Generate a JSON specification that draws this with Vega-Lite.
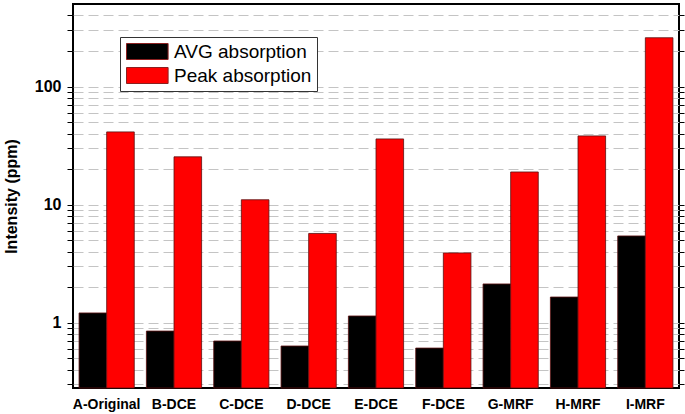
{
  "$schema": "https://vega.github.io/schema/vega-lite/v6.json",
  "width": 606,
  "height": 384,
  "autosize": "none",
  "padding": {"left": 73, "top": 4, "right": 6, "bottom": 26},
  "background": "white",
  "config": {
    "view": {"stroke": "black", "strokeWidth": 2},
    "font": "Liberation Sans"
  },
  "data": {
    "values": [
      {"sample": "A-Original", "series": "AVG absorption", "value": 1.21},
      {"sample": "A-Original", "series": "Peak absorption", "value": 41.3},
      {"sample": "B-DCE", "series": "AVG absorption", "value": 0.85},
      {"sample": "B-DCE", "series": "Peak absorption", "value": 25.4},
      {"sample": "C-DCE", "series": "AVG absorption", "value": 0.70},
      {"sample": "C-DCE", "series": "Peak absorption", "value": 11.0},
      {"sample": "D-DCE", "series": "AVG absorption", "value": 0.635},
      {"sample": "D-DCE", "series": "Peak absorption", "value": 5.7},
      {"sample": "E-DCE", "series": "AVG absorption", "value": 1.14},
      {"sample": "E-DCE", "series": "Peak absorption", "value": 36},
      {"sample": "F-DCE", "series": "AVG absorption", "value": 0.61},
      {"sample": "F-DCE", "series": "Peak absorption", "value": 3.9},
      {"sample": "G-MRF", "series": "AVG absorption", "value": 2.13},
      {"sample": "G-MRF", "series": "Peak absorption", "value": 18.9},
      {"sample": "H-MRF", "series": "AVG absorption", "value": 1.65},
      {"sample": "H-MRF", "series": "Peak absorption", "value": 38.2},
      {"sample": "I-MRF", "series": "AVG absorption", "value": 5.43},
      {"sample": "I-MRF", "series": "Peak absorption", "value": 259}
    ]
  },
  "layer": [
    {
      "mark": {"type": "bar", "stroke": "#5a1010", "strokeWidth": 0.8},
      "encoding": {
        "x": {
          "field": "sample",
          "type": "nominal",
          "sort": null,
          "scale": {"paddingInner": 0.18, "paddingOuter": 0.09},
          "axis": {
            "title": null,
            "labelAngle": 0,
            "labelFontWeight": "bold",
            "labelFontSize": 14,
            "labelColor": "black",
            "labelPadding": 9,
            "ticks": false,
            "domain": false
          }
        },
        "xOffset": {"field": "series", "type": "nominal", "scale": {"paddingInner": 0}},
        "y": {
          "field": "value",
          "type": "quantitative",
          "scale": {"type": "log", "domain": [0.28, 500], "nice": false},
          "axis": {
            "title": "Intensity (ppm)",
            "titleFontSize": 16,
            "titleFontWeight": "bold",
            "titleColor": "black",
            "titlePadding": 15,
            "values": [0.3,0.4,0.5,0.6,0.7,0.8,0.9,1,2,3,4,5,6,7,8,9,10,20,30,40,50,60,70,80,90,100,200,300,400],
            "labelExpr": "(datum.value == 1 || datum.value == 10 || datum.value == 100) ? datum.label : ''",
            "labelFontSize": 16,
            "labelFontWeight": "bold",
            "labelColor": "black",
            "labelPadding": 6,
            "tickSize": 6,
            "tickColor": "black",
            "tickWidth": 1,
            "domain": false,
            "grid": true,
            "gridColor": "#c4c4c4",
            "gridDash": [10, 5],
            "gridWidth": 1,
            "encode": {
              "ticks": {
                "enter": {
                  "x": {"value": 2},
                  "x2": {"signal": "(datum.value == 1 || datum.value == 10 || datum.value == 100) ? -6 : -2"}
                },
                "update": {
                  "x": {"value": 2},
                  "x2": {"signal": "(datum.value == 1 || datum.value == 10 || datum.value == 100) ? -6 : -2"}
                }
              }
            }
          }
        },
        "y2": {"datum": 0.28},
        "color": {
          "field": "series",
          "type": "nominal",
          "scale": {"range": ["black", "#ff0000"]},
          "legend": {
            "title": null,
            "orient": "none",
            "legendX": 47,
            "legendY": 33,
            "fillColor": "white",
            "strokeColor": "#333",
            "padding": 5,
            "symbolType": "M-1,-1H4.2V1H-1Z",
            "symbolSize": 256,
            "symbolStrokeColor": "#8b2020",
            "symbolStrokeWidth": 1,
            "symbolOpacity": 1,
            "labelOffset": 30,
            "labelFontSize": 19,
            "labelColor": "black",
            "rowPadding": 3
          }
        }
      }
    },
    {
      "mark": {"type": "rule", "opacity": 0},
      "encoding": {
        "y": {
          "field": "value",
          "type": "quantitative",
          "scale": {"type": "log", "domain": [0.28, 500], "nice": false},
          "axis": {
            "orient": "right",
            "title": null,
            "values": [0.3,0.4,0.5,0.6,0.7,0.8,0.9,1,2,3,4,5,6,7,8,9,10,20,30,40,50,60,70,80,90,100,200,300,400],
            "labels": false,
            "tickSize": 5,
            "tickColor": "black",
            "domain": false,
            "grid": false,
            "encode": {
              "ticks": {
                "enter": {
                  "x": {"value": -2},
                  "x2": {"signal": "(datum.value == 1 || datum.value == 10 || datum.value == 100) ? 6 : 2"}
                },
                "update": {
                  "x": {"value": -2},
                  "x2": {"signal": "(datum.value == 1 || datum.value == 10 || datum.value == 100) ? 6 : 2"}
                }
              }
            }
          }
        }
      }
    }
  ],
  "resolve": {"axis": {"y": "independent"}}
}
